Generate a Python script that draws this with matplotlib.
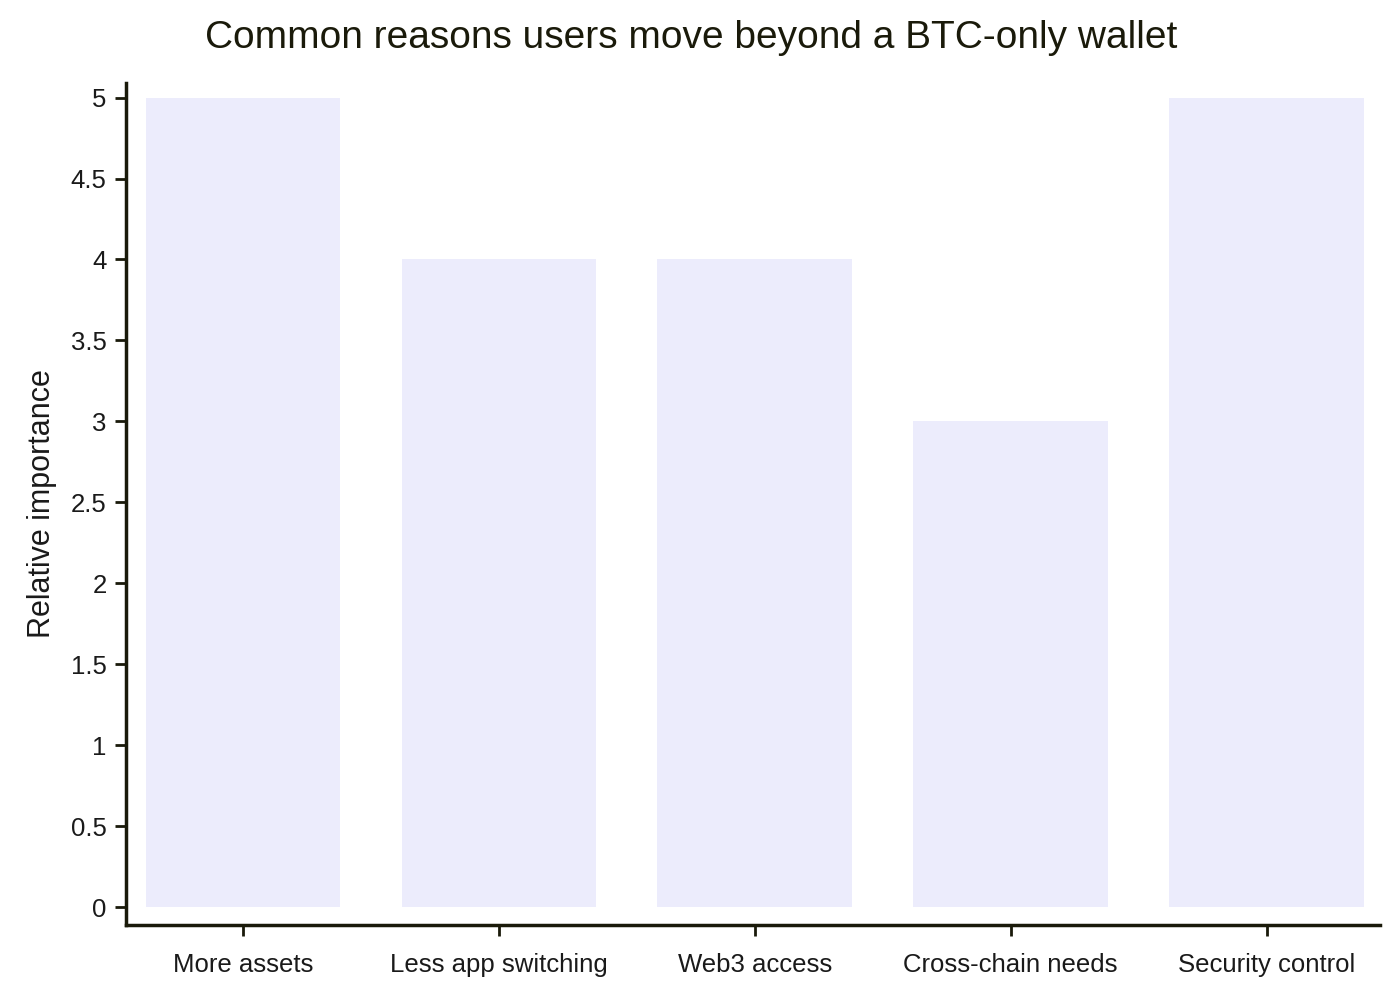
import matplotlib
matplotlib.use("Agg")
import matplotlib.pyplot as plt

categories = ["More assets", "Less app switching", "Web3 access", "Cross-chain needs", "Security control"]
values = [5, 4, 4, 3, 5]
yticks = [0, 0.5, 1, 1.5, 2, 2.5, 3, 3.5, 4, 4.5, 5]
yticklabels = ["0", "0.5", "1", "1.5", "2", "2.5", "3", "3.5", "4", "4.5", "5"]

plt.rcParams['font.family'] = ['Liberation Sans', 'DejaVu Sans']
fig = plt.figure(figsize=(14, 10), dpi=100)
ax = fig.add_axes([0.09, 0.075, 0.896, 0.842])
ax.bar(range(len(categories)), values, width=0.76, color="#ececfc")
ax.set_xlim(-0.457, 4.445)
ax.set_ylim(-0.11, 5.09)
ax.set_xticks(range(len(categories)))
ax.set_xticklabels(categories, fontsize=18.5, color="#1a1a1a")
ax.set_yticks(yticks)
ax.set_yticklabels(yticklabels, fontsize=18.5, color="#1a1a1a")
ax.set_ylabel("Relative importance", fontsize=22, color="#1a1a1a", labelpad=10)
for s in ["top", "right"]:
    ax.spines[s].set_visible(False)
for s in ["left", "bottom"]:
    ax.spines[s].set_linewidth(2.5)
    ax.spines[s].set_color("#1a1a0a")
ax.tick_params(axis="both", length=8, width=2, color="#1a1a0a")
ax.tick_params(axis="x", pad=12)
ax.tick_params(axis="y", pad=6)
fig.text(0.494, 0.962, "Common reasons users move beyond a BTC-only wallet",
         ha="center", va="center", fontsize=28, color="#1a1a0a")
fig.savefig("out.png", dpi=100)
